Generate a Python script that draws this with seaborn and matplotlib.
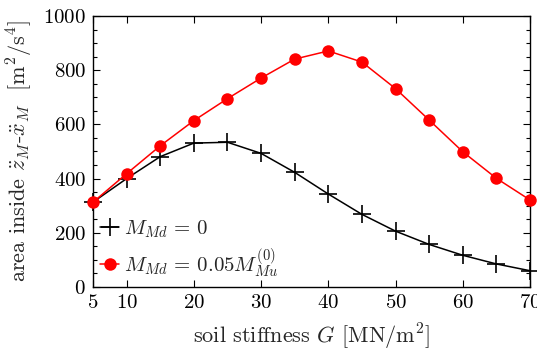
import matplotlib
matplotlib.use("Agg")
import matplotlib.pyplot as plt
import seaborn as sns
import pandas as pd
from matplotlib.ticker import MultipleLocator

G = [5, 10, 15, 20, 25, 30, 35, 40, 45, 50, 55, 60, 65, 70]
area_zero = [313, 400, 481, 531, 534, 493, 423, 343, 268, 206, 157, 117, 85, 60]
area_005 = [313, 418, 521, 614, 695, 771, 841, 871, 830, 732, 616, 499, 401, 321]
labels = [r"$M_{Md}\,=\,0$", r"$M_{Md}\,=\,0.05M_{Mu}^{(0)}$"]
xticks = [5, 10, 20, 30, 40, 50, 60, 70]

sns.set_theme(style="ticks")
plt.rcParams["font.family"] = ["serif"]
plt.rcParams["font.serif"] = ["cmr10", "DejaVu Serif"]
plt.rcParams["mathtext.fontset"] = "cm"
plt.rcParams["axes.formatter.use_mathtext"] = True

df = pd.DataFrame({
    "G": G * 2,
    "area": area_zero + area_005,
    "case": [labels[0]] * len(G) + [labels[1]] * len(G),
})

fig = plt.figure(figsize=(5.37, 3.53), dpi=100)
ax = fig.add_axes([0.1732, 0.187, 0.8138, 0.7677])

sns.lineplot(data=df[df["case"] == labels[0]], x="G", y="area", color="black",
             marker="+", markersize=13, markeredgewidth=1.2, markeredgecolor="black",
             linewidth=1.1, ax=ax, label=labels[0], clip_on=False, zorder=3)
sns.lineplot(data=df[df["case"] == labels[1]], x="G", y="area", color="#ff0000",
             marker="o", markersize=9, markeredgewidth=0, linewidth=1.1,
             ax=ax, label=labels[1], clip_on=False, zorder=4)

ax.set_xlim(5, 70)
ax.set_ylim(0, 1000)
ax.set_xticks(xticks)
ax.yaxis.set_major_locator(MultipleLocator(200))
ax.yaxis.set_minor_locator(MultipleLocator(50))
ax.tick_params(axis="both", which="both", direction="in", top=True, right=True,
               labelsize=15, colors="black", width=0.8)
ax.tick_params(axis="both", which="major", length=5, pad=5)
ax.tick_params(axis="y", which="minor", length=3)
for s in ax.spines.values():
    s.set_linewidth(1.0)
    s.set_color("black")

ax.set_xlabel(r"soil stiffness $G$ [MN/m$^2$]", fontsize=16, labelpad=7)
ax.set_ylabel(r"area inside $\ddot{z}_M$-$\ddot{x}_M$  [m$^2$/s$^4$]", fontsize=16, labelpad=6)

leg = ax.legend(loc="lower left", frameon=False, fontsize=15, handlelength=0.9,
                handletextpad=0.25, borderaxespad=0.05, labelspacing=0.3,
                borderpad=0.3)

fig.savefig("out.png", dpi=100)
